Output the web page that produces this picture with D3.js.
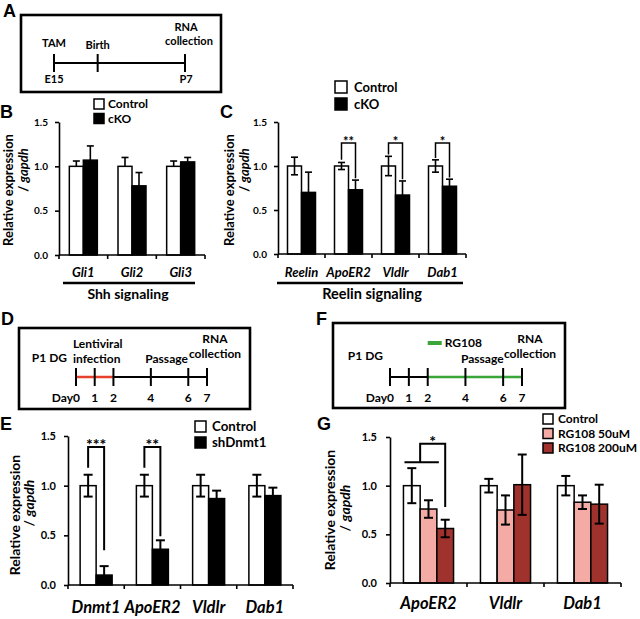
<!DOCTYPE html>
<html><head><meta charset="utf-8">
<script src="https://cdn.jsdelivr.net/npm/d3@7"></script>
<style>
body{margin:0;background:#fff;}
svg text{font-family:Lato,"Open Sans",sans-serif;font-weight:700;fill:#000;}
</style></head><body>
<svg id="fig" width="640" height="619"></svg>
<script>
// ---------- data ----------
const yTicks = [0, 0.5, 1.0, 1.5];

// Panel A timeline (days from E15)
const aDays = [0, 4, 12];

// Panels D / F timelines
const dDays = [0, 1, 2, 4, 6, 7];
const dDayLabels = ["Day0", "1", "2", "4", "6", "7"];
const dInfection = [0, 2];
const fDays = [0, 1, 2, 4, 6, 7];
const fDayLabels = ["Day0", "1", "2", "4", "6", "7"];
const fTreatment = [2, 7];

// Panel B
const bGenes = ["Gli1", "Gli2", "Gli3"];
const bSeriesNames = ["Control", "cKO"];
const bControl = [1.0, 1.0, 1.0];
const bControlErr = [0.06, 0.10, 0.06];
const bCKO = [1.07, 0.78, 1.05];
const bCKOErr = [0.16, 0.15, 0.05];

// Panel C
const cGenes = ["Reelin", "ApoER2", "Vldlr", "Dab1"];
const cSeriesNames = ["Control", "cKO"];
const cControl = [1.0, 1.0, 1.0, 1.0];
const cControlErr = [0.10, 0.04, 0.11, 0.07];
const cCKO = [0.70, 0.73, 0.67, 0.77];
const cCKOErr = [0.23, 0.11, 0.16, 0.08];
const cSigGenes = ["ApoER2", "Vldlr", "Dab1"];
const cSigLabels = ["**", "*", "*"];
const cSigTop = [1.26, 1.26, 1.26];
const cSigLeft = [1.07, 1.13, 1.09];
const cSigRight = [0.86, 0.85, 0.87];

// Panel E
const eGenes = ["Dnmt1", "ApoER2", "Vldlr", "Dab1"];
const eSeriesNames = ["Control", "shDnmt1"];
const eControl = [1.0, 1.0, 1.0, 1.0];
const eControlErr = [0.11, 0.11, 0.11, 0.11];
const eSh = [0.10, 0.36, 0.87, 0.90];
const eShErr = [0.09, 0.09, 0.08, 0.08];
const eSigGenes = ["Dnmt1", "ApoER2"];
const eSigLabels = ["***", "**"];
const eSigTop = [1.39, 1.39];
const eSigLeft = [1.18, 1.18];
const eSigRight = [0.35, 0.49];

// Panel G
const gGenes = ["ApoER2", "Vldlr", "Dab1"];
const gSeriesNames = ["Control", "RG108 50uM", "RG108 200uM"];
const gControl = [1.0, 1.0, 1.0];
const gControlErr = [0.18, 0.07, 0.10];
const g50 = [0.76, 0.75, 0.83];
const g50Err = [0.09, 0.15, 0.07];
const g200 = [0.56, 1.01, 0.81];
const g200Err = [0.09, 0.31, 0.20];
const gSigBase = 1.24, gSigTop = 1.43, gSigEnd = 0.78, gSigLabel = "*";

// ---------- drawing ----------
const svg = d3.select("#fig");
svg.append("rect").attr("width", 640).attr("height", 619).attr("fill", "#fff");

function letter(t, x, y) {
  svg.append("text").attr("x", x).attr("y", y).text(t)
    .style("font-family", "Arial, 'Liberation Sans', sans-serif").style("font-size", "18px");
}

function txt(g, t, x, y, size, anchor) {
  return g.append("text").attr("x", x).attr("y", y).attr("text-anchor", anchor || "middle")
    .style("font-size", size + "px").text(t);
}

// ---- Panel A ----
letter("A", 3, 17);
(function () {
  const g = svg.append("g");
  g.append("rect").attr("x", 21).attr("y", 15).attr("width", 200).attr("height", 77)
    .attr("fill", "none").attr("stroke", "#000").attr("stroke-width", 2.6);
  const x = d3.scaleLinear().domain([0, 12]).range([54, 185]);
  const ly = 63;
  g.append("line").attr("x1", x(0)).attr("x2", x(12)).attr("y1", ly).attr("y2", ly)
    .attr("stroke", "#000").attr("stroke-width", 2);
  g.selectAll(null).data(aDays).join("line")
    .attr("x1", d => x(d)).attr("x2", d => x(d)).attr("y1", ly - 9).attr("y2", ly + 9)
    .attr("stroke", "#000").attr("stroke-width", 2);
  txt(g, "TAM", x(0), 47, 11);
  txt(g, "Birth", x(4), 49, 11);
  txt(g, "RNA", x(12) + 1, 31, 11);
  txt(g, "collection", x(12) + 4, 45, 11);
  txt(g, "E15", x(0), 83, 11);
  txt(g, "P7", x(12) + 1, 83, 11);
})();

// ---- timeline D / F ----
function timeline(days, labels, x, colorRange, color, ly) {
  const g = svg.append("g");
  g.append("line").attr("x1", x(days[0])).attr("x2", x(days[days.length - 1]))
    .attr("y1", ly).attr("y2", ly).attr("stroke", "#000").attr("stroke-width", 2);
  g.append("line").attr("x1", x(colorRange[0])).attr("x2", x(colorRange[1]))
    .attr("y1", ly).attr("y2", ly).attr("stroke", color).attr("stroke-width", 2.6);
  g.selectAll(null).data(days).join("line")
    .attr("x1", d => x(d)).attr("x2", d => x(d)).attr("y1", ly - 9).attr("y2", ly + 9)
    .attr("stroke", "#000").attr("stroke-width", 2);
  g.selectAll(null).data(days).join("text")
    .attr("x", (d, i) => i === 0 ? x(d) + 4 : x(d)).attr("y", 402)
    .attr("text-anchor", (d, i) => i === 0 ? "end" : "middle")
    .style("font-size", "12px").text((d, i) => labels[i]);
  return g;
}

letter("D", 1, 325);
(function () {
  svg.append("rect").attr("x", 19).attr("y", 328).attr("width", 231).attr("height", 81)
    .attr("fill", "none").attr("stroke", "#000").attr("stroke-width", 2.6);
  const x = d3.scaleLinear().domain([0, 7]).range([76, 207]);
  const g = timeline(dDays, dDayLabels, x, dInfection, "#e8402e", 377);
  txt(g, "P1 DG", x(0) - 9, 362, 12, "end");
  txt(g, "Lentiviral", x(1) + 3, 348, 12);
  txt(g, "infection", x(1) + 2, 363, 12);
  txt(g, "Passage", x(5) - 3, 363, 12);
  txt(g, "RNA", x(7) + 8, 342.5, 12);
  txt(g, "collection", x(7) + 8, 357.5, 12);
})();

letter("F", 316, 325);
(function () {
  svg.append("rect").attr("x", 333).attr("y", 323).attr("width", 232).attr("height", 85)
    .attr("fill", "none").attr("stroke", "#000").attr("stroke-width", 2.6);
  const x = d3.scaleLinear().domain([0, 7]).range([390, 522]);
  const g = timeline(fDays, fDayLabels, x, fTreatment, "#3aa63a", 377);
  g.append("line").attr("x1", x(2)).attr("x2", x(2) + 14).attr("y1", 343).attr("y2", 343)
    .attr("stroke", "#3aa63a").attr("stroke-width", 4);
  txt(g, "RG108", x(2) + 17, 347, 12, "start");
  txt(g, "P1 DG", x(0) - 7, 360, 12, "end");
  txt(g, "Passage", x(5) - 2, 363, 12);
  txt(g, "RNA", x(7) + 8, 342.5, 12);
  txt(g, "collection", x(7) + 8, 357.5, 12);
})();

// ---- bar panels ----
function barPanel(cfg) {
  const g = svg.append("g");
  const x = d3.scaleBand().domain(cfg.genes).range(cfg.xRange).padding(0);
  const y = d3.scaleLinear().domain([0, 1.5]).range(cfg.yRange);
  const n = cfg.series.length, bw = cfg.barWidth, half = x.bandwidth() / 2;
  const xs = d3.scaleBand().domain(d3.range(n)).range([half - n * bw / 2, half + n * bw / 2]);
  const cx = (gene, si) => x(gene) + xs(si) + xs.bandwidth() / 2;

  cfg.series.forEach((s, si) => {
    g.selectAll(null).data(cfg.genes).join("rect")
      .attr("x", d => x(d) + xs(si)).attr("width", xs.bandwidth())
      .attr("y", (d, i) => y(s.values[i])).attr("height", (d, i) => y(0) - y(s.values[i]))
      .attr("fill", s.fill).attr("stroke", "#000").attr("stroke-width", 1.5);
  });
  cfg.series.forEach((s, si) => {
    const eg = g.selectAll(null).data(cfg.genes).join("g");
    eg.append("line").attr("x1", d => cx(d, si)).attr("x2", d => cx(d, si))
      .attr("y1", (d, i) => y(s.values[i] + s.errs[i]))
      .attr("y2", (d, i) => s.upOnly ? y(s.values[i]) : y(s.values[i] - s.errs[i]))
      .attr("stroke", "#000").attr("stroke-width", cfg.errWidth);
    eg.append("line").attr("x1", d => cx(d, si) - cfg.cap).attr("x2", d => cx(d, si) + cfg.cap)
      .attr("y1", (d, i) => y(s.values[i] + s.errs[i])).attr("y2", (d, i) => y(s.values[i] + s.errs[i]))
      .attr("stroke", "#000").attr("stroke-width", cfg.errWidth);
    if (!s.upOnly) {
      eg.append("line").attr("x1", d => cx(d, si) - cfg.cap).attr("x2", d => cx(d, si) + cfg.cap)
        .attr("y1", (d, i) => y(s.values[i] - s.errs[i])).attr("y2", (d, i) => y(s.values[i] - s.errs[i]))
        .attr("stroke", "#000").attr("stroke-width", cfg.errWidth);
    }
  });

  // y axis
  const ya = g.append("g").attr("transform", `translate(${cfg.xRange[0]},0)`)
    .call(d3.axisLeft(y).tickValues(yTicks).tickFormat(d3.format(".1f")).tickSize(4).tickSizeOuter(0).tickPadding(cfg.tickPad));
  ya.select(".domain").attr("stroke-width", 1.6);
  ya.selectAll(".tick line").attr("stroke-width", 1.6);
  ya.selectAll(".tick text").style("font-size", cfg.tickFont + "px").style("font-family", "Lato, sans-serif").style("font-weight", 700);

  // x axis
  const y0 = y(0);
  g.append("line").attr("x1", cfg.xRange[0]).attr("x2", cfg.xRange[1]).attr("y1", y0).attr("y2", y0)
    .attr("stroke", "#000").attr("stroke-width", 1.6);
  const edges = cfg.genes.map(d => x(d)).concat([cfg.xRange[1]]);
  g.selectAll(null).data(edges).join("line")
    .attr("x1", d => d).attr("x2", d => d).attr("y1", y0).attr("y2", y0 + 4)
    .attr("stroke", "#000").attr("stroke-width", 1.6);
  g.selectAll(null).data(cfg.genes).join("text")
    .attr("x", d => x(d) + half).attr("y", y0 + cfg.catOffset)
    .attr("text-anchor", "middle").style("font-size", cfg.catFont + "px").style("font-style", "italic")
    .text(d => d);

  // y title
  g.append("text").attr("transform", `translate(${cfg.title1[0]},${cfg.title1[1]}) rotate(-90)`)
    .attr("text-anchor", "middle").attr("dy", "0.35em").style("font-size", cfg.titleFont + "px").text("Relative expression");
  const t2 = g.append("text").attr("transform", `translate(${cfg.title2[0]},${cfg.title2[1]}) rotate(-90)`)
    .attr("text-anchor", "middle").attr("dy", "0.35em").style("font-size", cfg.titleFont + "px");
  t2.append("tspan").text("/ ");
  t2.append("tspan").style("font-style", "italic").text("gapdh");

  // legend
  cfg.series.forEach((s, si) => {
    const ly = cfg.legend.y + si * cfg.legend.step;
    g.append("rect").attr("x", cfg.legend.x).attr("y", ly).attr("width", cfg.legend.size).attr("height", cfg.legend.size)
      .attr("fill", s.fill).attr("stroke", "#000").attr("stroke-width", 1.5);
    g.append("text").attr("x", cfg.legend.x + cfg.legend.size + cfg.legend.gap).attr("y", ly + cfg.legend.size / 2)
      .attr("dy", "0.36em").style("font-size", cfg.legend.font + "px").text(s.name);
  });

  return { g, x, y, cx };
}

function brackets(p, genes, labels, tops, lefts, rights, starFont, sw) {
  genes.forEach((gene, i) => {
    const xl = p.cx(gene, 0), xr = p.cx(gene, 1);
    const path = d3.path();
    path.moveTo(xl, p.y(lefts[i]));
    path.lineTo(xl, p.y(tops[i]));
    path.lineTo(xr, p.y(tops[i]));
    path.lineTo(xr, p.y(rights[i]));
    p.g.append("path").attr("d", path.toString()).attr("fill", "none").attr("stroke", "#000").attr("stroke-width", sw);
    p.g.append("text").attr("x", (xl + xr) / 2).attr("y", p.y(tops[i]) + starFont * 0.2)
      .attr("text-anchor", "middle").style("font-size", starFont + "px").text(labels[i]);
  });
}

// Panel B
letter("B", 0, 118);
barPanel({
  genes: bGenes, xRange: [59, 205], yRange: [255, 122], barWidth: 14,
  series: [
    { name: bSeriesNames[0], values: bControl, errs: bControlErr, fill: "#fff", upOnly: true },
    { name: bSeriesNames[1], values: bCKO, errs: bCKOErr, fill: "#000", upOnly: true }
  ],
  errWidth: 1.6, cap: 3.5, tickFont: 10, tickPad: 7, catFont: 13, catOffset: 22,
  titleFont: 13, title1: [8, 190], title2: [23, 170],
  legend: { x: 94, y: 99, step: 14.5, size: 10, gap: 4, font: 12 }
});
(function () {
  const g = svg.append("g");
  g.append("line").attr("x1", 63).attr("x2", 195).attr("y1", 283).attr("y2", 283).attr("stroke", "#000").attr("stroke-width", 2.5);
  txt(g, "Shh signaling", 128, 299, 14);
})();

// Panel C
letter("C", 220, 118);
const pC = barPanel({
  genes: cGenes, xRange: [278, 466], yRange: [254, 122], barWidth: 14,
  series: [
    { name: cSeriesNames[0], values: cControl, errs: cControlErr, fill: "#fff", upOnly: false },
    { name: cSeriesNames[1], values: cCKO, errs: cCKOErr, fill: "#000", upOnly: true }
  ],
  errWidth: 1.6, cap: 3.5, tickFont: 10, tickPad: 7, catFont: 13, catOffset: 23,
  titleFont: 13, title1: [229, 190], title2: [244, 170],
  legend: { x: 335, y: 81, step: 17, size: 12, gap: 7, font: 13 }
});
brackets(pC, cSigGenes, cSigLabels, cSigTop, cSigLeft, cSigRight, 13, 1.5);
(function () {
  const g = svg.append("g");
  g.append("line").attr("x1", 277).attr("x2", 463).attr("y1", 283).attr("y2", 283).attr("stroke", "#000").attr("stroke-width", 2.5);
  txt(g, "Reelin signaling", 372, 299, 14.5);
})();

// Panel E
letter("E", 0, 430);
const pE = barPanel({
  genes: eGenes, xRange: [68, 293], yRange: [585, 436], barWidth: 16,
  series: [
    { name: eSeriesNames[0], values: eControl, errs: eControlErr, fill: "#fff", upOnly: false },
    { name: eSeriesNames[1], values: eSh, errs: eShErr, fill: "#000", upOnly: true }
  ],
  errWidth: 2, cap: 4.5, tickFont: 11, tickPad: 8, catFont: 16.5, catOffset: 28,
  titleFont: 14, title1: [15, 515], title2: [29, 503],
  legend: { x: 195, y: 421, step: 16, size: 11, gap: 6, font: 13.3 }
});
brackets(pE, eSigGenes, eSigLabels, eSigTop, eSigLeft, eSigRight, 16, 2);

// Panel G
letter("G", 317, 430);
const pG = barPanel({
  genes: gGenes, xRange: [390, 621], yRange: [583, 437], barWidth: 16.7,
  series: [
    { name: gSeriesNames[0], values: gControl, errs: gControlErr, fill: "#fff", upOnly: false },
    { name: gSeriesNames[1], values: g50, errs: g50Err, fill: "#f4aba5", upOnly: false },
    { name: gSeriesNames[2], values: g200, errs: g200Err, fill: "#a0322e", upOnly: false }
  ],
  errWidth: 2, cap: 4.5, tickFont: 11, tickPad: 9, catFont: 16.5, catOffset: 26,
  titleFont: 14, title1: [330, 510], title2: [345, 508],
  legend: { x: 543, y: 414, step: 14.5, size: 10, gap: 5, font: 12 }
});
(function () {
  const gene = gGenes[0];
  const xCtrlL = pG.x(gene) + pG.x.bandwidth() / 2 - 1.5 * 16.7;
  const xMid = pG.cx(gene, 0) + 16.7 / 2;
  const x50R = pG.cx(gene, 1) + 16.7 / 2;
  const x200 = pG.cx(gene, 2);
  pG.g.append("line").attr("x1", xCtrlL + 1).attr("x2", x50R + 2).attr("y1", pG.y(gSigBase)).attr("y2", pG.y(gSigBase))
    .attr("stroke", "#000").attr("stroke-width", 2);
  const path = d3.path();
  path.moveTo(xMid, pG.y(gSigBase));
  path.lineTo(xMid, pG.y(gSigTop));
  path.lineTo(x200, pG.y(gSigTop));
  path.lineTo(x200, pG.y(gSigEnd));
  pG.g.append("path").attr("d", path.toString()).attr("fill", "none").attr("stroke", "#000").attr("stroke-width", 2);
  pG.g.append("text").attr("x", (xMid + x200) / 2).attr("y", pG.y(gSigTop) + 3)
    .attr("text-anchor", "middle").style("font-size", "16px").text(gSigLabel);
})();
</script>
</body></html>
